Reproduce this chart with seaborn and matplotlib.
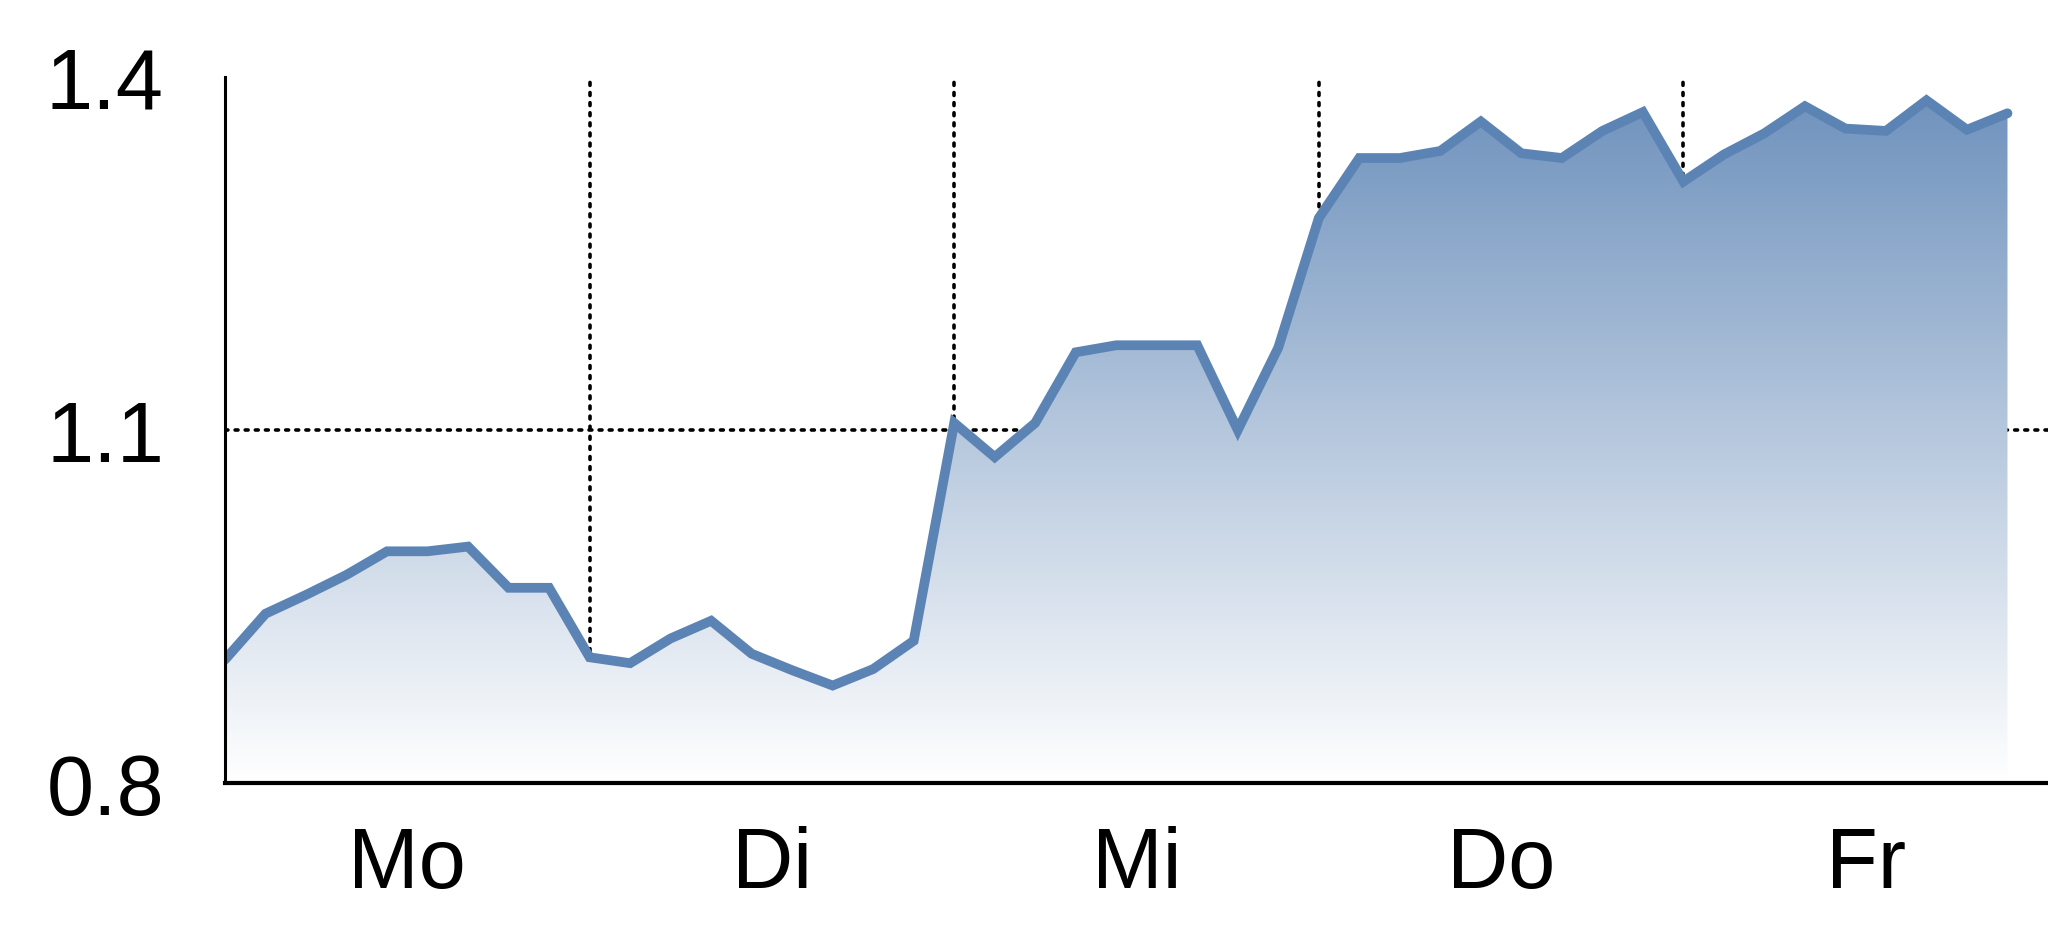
import numpy as np
import pandas as pd
import seaborn as sns
import matplotlib.pyplot as plt
from matplotlib.colors import LinearSegmentedColormap

# values, 9 points per day
values = [0.905, 0.944, 0.960, 0.977, 0.997, 0.997, 1.001, 0.966, 0.966,
          0.907, 0.902, 0.923, 0.938, 0.910, 0.896, 0.883, 0.897, 0.921,
          1.106, 1.077, 1.106, 1.166, 1.172, 1.172, 1.172, 1.100, 1.170,
          1.280, 1.331, 1.331, 1.337, 1.362, 1.335, 1.331, 1.354, 1.370,
          1.311, 1.334, 1.352, 1.375, 1.356, 1.354, 1.380, 1.355, 1.369]
days = ['Mo', 'Di', 'Mi', 'Do', 'Fr']
y_ticks = [0.8, 1.1, 1.4]
y_labels = ['0.8', '1.1', '1.4']
points_per_day = 9

line_color = '#5b84b5'
top_color = '#6b8fbb'


def make_plot():
    df = pd.DataFrame({'t': np.arange(len(values)), 'v': values})

    sns.set_style('white')
    plt.rcParams['font.family'] = ['Liberation Sans Narrow', 'Liberation Sans', 'DejaVu Sans']

    fig = plt.figure(figsize=(20.48, 9.37), dpi=100)
    ax = fig.add_axes([225 / 2048, 0.163, 1 - 225 / 2048, 0.917 - 0.163])

    x_max = len(days) * points_per_day
    ax.set_xlim(0, x_max)
    ax.set_ylim(0.8, 1.4)

    # dotted grid behind the fill
    dots = (0, (0.8, 2.0))
    for d in range(1, len(days)):
        ax.axvline(d * points_per_day, color='black', lw=2.6, ls=dots,
                   dash_capstyle='round', zorder=0)
    ax.axhline(1.1, color='black', lw=2.6, ls=dots, dash_capstyle='round', zorder=0)

    # gradient area under the line
    poly = ax.fill_between(df['t'], df['v'], 0.8, facecolor='none', edgecolor='none')
    cmap = LinearSegmentedColormap.from_list('fade', ['#ffffff', top_color])
    grad = np.linspace(0, 1, 256).reshape(-1, 1)
    img = ax.imshow(grad, cmap=cmap, aspect='auto', origin='lower',
                    extent=[0, len(values) - 1, 0.8, 1.4], zorder=1)
    img.set_clip_path(poly.get_paths()[0], transform=ax.transData)

    sns.lineplot(data=df, x='t', y='v', ax=ax, color=line_color, lw=7,
                 solid_joinstyle='miter', solid_capstyle='round', zorder=3)

    ax.set_xticks([(i + 0.5) * points_per_day for i in range(len(days))])
    ax.set_xticklabels(days)
    ax.set_yticks(y_ticks)
    ax.set_yticklabels(y_labels)
    ax.tick_params(axis='both', length=0, labelsize=61, colors='black')
    ax.tick_params(axis='x', pad=30)
    ax.tick_params(axis='y', pad=44)
    ax.set_xlabel('')
    ax.set_ylabel('')

    for s in ['top', 'right']:
        ax.spines[s].set_visible(False)
    ax.spines['left'].set_linewidth(2.2)
    ax.spines['bottom'].set_linewidth(3)
    ax.spines['left'].set_color('black')
    ax.spines['bottom'].set_color('black')
    ax.spines['left'].set_zorder(4)
    ax.spines['bottom'].set_zorder(4)

    fig.savefig('out.png', dpi=100, facecolor='white')


if __name__ == "__main__":
    make_plot()
